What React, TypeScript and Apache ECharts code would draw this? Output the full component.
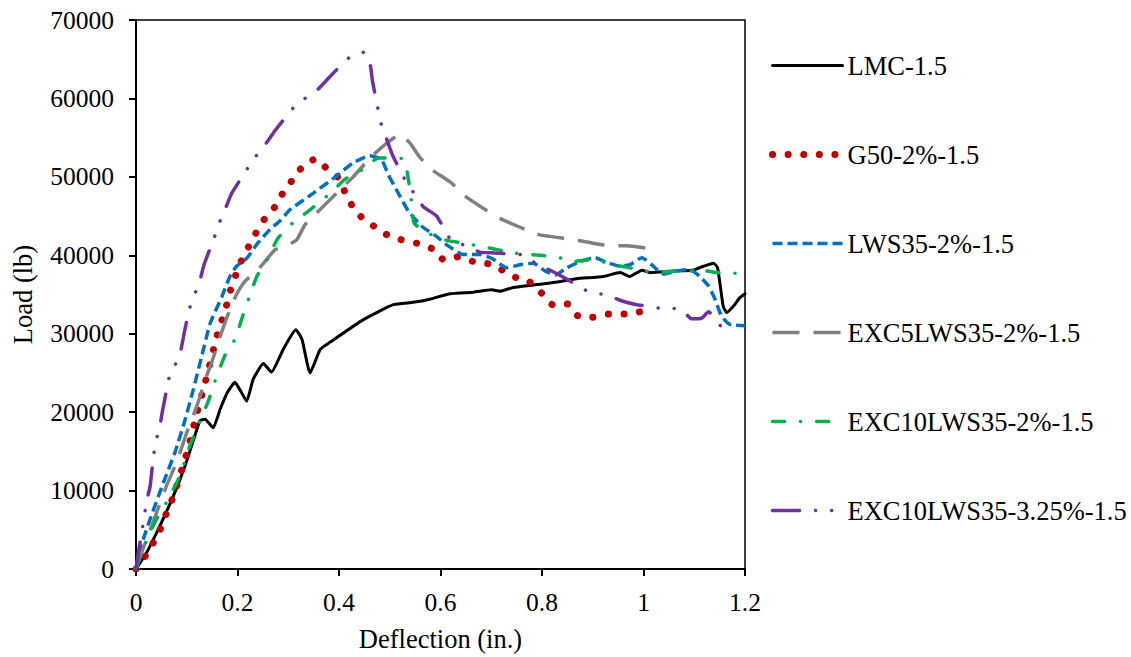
import React, { useEffect, useRef } from "react";
import * as echarts from "echarts";

const FONT = '"Liberation Serif", "Times New Roman", serif';

const seriesNames = [
  "LMC-1.5",
  "G50-2%-1.5",
  "LWS35-2%-1.5",
  "EXC5LWS35-2%-1.5",
  "EXC10LWS35-2%-1.5",
  "EXC10LWS35-3.25%-1.5",
];

const xTicks = { min: 0, max: 1.2, interval: 0.2 };
const yTicks = { min: 0, max: 70000, interval: 10000 };

const lmc = [
  [0, 0], [0.021, 2100], [0.045, 5200], [0.0735, 9300], [0.097, 13200], [0.115, 16800],
  [0.126, 18900], [0.136, 19100], [0.152, 18000], [0.166, 20400], [0.18, 22500], [0.195, 23800],
  [0.207, 22600], [0.218, 21400], [0.231, 24200], [0.251, 26200], [0.267, 25100], [0.29, 28000],
  [0.315, 30500], [0.327, 29300], [0.343, 25000], [0.363, 28000], [0.382, 28900], [0.448, 31800],
  [0.507, 33700], [0.546, 34000], [0.579, 34400], [0.619, 35100], [0.665, 35300], [0.701, 35600],
  [0.717, 35400], [0.743, 35900], [0.796, 36300], [0.829, 36600], [0.868, 37000], [0.921, 37300],
  [0.954, 37800], [0.973, 37300], [0.997, 38100], [1.013, 37800], [1.059, 38000], [1.098, 38100],
  [1.118, 38600], [1.138, 39000], [1.146, 38400], [1.157, 33500], [1.164, 32700], [1.177, 33500],
  [1.19, 34600], [1.2, 35100],
];

const g50 = [
  [0, 0], [0.021, 1900], [0.037, 3700], [0.051, 5500], [0.062, 7500], [0.074, 9300], [0.093, 13300],
  [0.103, 15400], [0.118, 19400], [0.126, 21300], [0.134, 23200], [0.1425, 25300], [0.158, 29400],
  [0.167, 31300], [0.177, 33300], [0.185, 35300], [0.195, 37200], [0.207, 39200], [0.221, 41000],
  [0.236, 42800], [0.253, 44600], [0.274, 46200], [0.29, 48000], [0.308, 49600], [0.328, 51300],
  [0.354, 52300], [0.377, 51000], [0.4, 49800], [0.412, 48000], [0.427, 46200], [0.448, 44600],
  [0.474, 43500], [0.5, 42400], [0.528, 41900], [0.555, 41500], [0.585, 40800], [0.607, 39400],
  [0.634, 39800], [0.665, 39200], [0.696, 38900], [0.725, 38000], [0.751, 37100], [0.776, 36600],
  [0.799, 35200], [0.821, 33700], [0.85, 33800], [0.87, 32300], [0.899, 32100], [0.931, 32500],
  [0.962, 32500], [0.993, 32800],
];

const lws35 = [
  [0, 0], [0.0145, 3800], [0.028, 6400], [0.054, 11000], [0.077, 14900], [0.097, 19100],
  [0.113, 22900], [0.129, 27000], [0.146, 31300], [0.169, 34700], [0.185, 37300], [0.198, 38600],
  [0.218, 39600], [0.238, 41400], [0.264, 43300], [0.284, 44400], [0.303, 45800], [0.349, 47900],
  [0.395, 50100], [0.428, 51800], [0.461, 52700], [0.484, 52200], [0.497, 50300], [0.517, 47900],
  [0.537, 45600], [0.563, 43700], [0.59, 42500], [0.615, 41200], [0.645, 40100], [0.678, 40100],
  [0.704, 39500], [0.73, 38400], [0.757, 38800], [0.783, 39000], [0.806, 38000], [0.826, 37500],
  [0.849, 38400], [0.875, 39200], [0.904, 39700], [0.927, 39100], [0.954, 38600], [0.973, 38800],
  [0.997, 39700], [1.016, 38800], [1.039, 37600], [1.065, 38000], [1.092, 38200], [1.111, 37300],
  [1.128, 36100], [1.141, 34400], [1.154, 32200], [1.17, 31200], [1.2, 31000],
];

const exc5 = [
  [0, 0], [0.011, 2100], [0.031, 5500], [0.06, 10600], [0.08, 13600], [0.1, 17400], [0.12, 20800],
  [0.139, 24600], [0.149, 26300], [0.166, 29700], [0.185, 33100], [0.198, 35000], [0.215, 36700],
  [0.238, 38000], [0.254, 39200], [0.274, 40700], [0.297, 41200], [0.317, 42000], [0.333, 43900],
  [0.356, 45400], [0.395, 47900], [0.428, 50000], [0.461, 52400], [0.494, 54300], [0.52, 55400],
  [0.54, 54300], [0.558, 52600], [0.579, 51100], [0.622, 49200], [0.645, 47700], [0.691, 45700],
  [0.717, 44700], [0.767, 43300], [0.796, 42600], [0.849, 42100], [0.881, 41800], [0.934, 41200],
  [0.967, 41200], [1.026, 40700],
];

const exc10 = [
  [0, 0], [0.008, 1500], [0.024, 4200], [0.044, 6800], [0.06, 8500], [0.087, 11900], [0.106, 15700],
  [0.126, 18900], [0.1425, 21400], [0.157, 24200], [0.175, 27200], [0.195, 29300], [0.211, 32400],
  [0.223, 34600], [0.238, 37300], [0.26, 39700], [0.28, 42200], [0.31, 44200], [0.343, 45800],
  [0.379, 47700], [0.412, 49700], [0.448, 51000], [0.477, 52400], [0.494, 52400], [0.527, 52300],
  [0.537, 49600], [0.543, 46800], [0.548, 44100], [0.573, 42900], [0.606, 42000], [0.658, 41400],
  [0.691, 41000], [0.743, 40300], [0.796, 40000], [0.829, 39800], [0.862, 39200], [0.888, 39400],
  [0.918, 39200], [0.947, 38700], [0.973, 38400], [1.0, 38000], [1.039, 37900], [1.085, 38000],
  [1.124, 38000], [1.144, 37800], [1.17, 37700], [1.2, 37700],
];

const exc10b = [
  [0, 0], [0.0046, 2100], [0.011, 4500], [0.016, 6600], [0.021, 8700], [0.028, 10600], [0.034, 14200],
  [0.039, 16200], [0.047, 18200], [0.052, 20100], [0.066, 24600], [0.0735, 25500], [0.087, 27500],
  [0.095, 30100], [0.105, 33100], [0.115, 34900], [0.126, 36800], [0.134, 38800], [0.154, 42200],
  [0.164, 44100], [0.177, 46100], [0.1885, 47900], [0.219, 51000], [0.236, 52600], [0.2555, 54200],
  [0.274, 55900], [0.31, 58800], [0.333, 60000], [0.359, 61200], [0.381, 62700], [0.42, 65200],
  [0.45, 65900], [0.462, 64100], [0.466, 62200], [0.477, 58600], [0.484, 56500], [0.495, 54600],
  [0.506, 52700], [0.532, 49400], [0.548, 47900], [0.566, 46200], [0.5925, 45000], [0.62, 42000],
  [0.65, 41200], [0.678, 40400], [0.707, 40300], [0.767, 40000], [0.79, 38800], [0.819, 38000],
  [0.845, 37100], [0.896, 35200], [0.926, 35000], [0.956, 34200], [0.987, 33700], [1.042, 33200],
  [1.072, 33200], [1.095, 31900], [1.115, 32000], [1.128, 32800], [1.154, 30800],
];

const seriesData = [lmc, g50, lws35, exc5, exc10, exc10b];

const seriesStyles: any[] = [
  { color: "#000000", width: 3, type: "solid", cap: "round" },
  { color: "#C00000", width: 7, type: [0.1, 15.5], cap: "round" },
  { color: "#0070C0", width: 3.5, type: [10, 5], cap: "butt" },
  { color: "#808080", width: 3.5, type: [27, 14], cap: "butt" },
  { color: "#00B050", width: 3.5, type: [12, 16, 0.1, 16], cap: "round" },
  { color: "#7030A0", width: 3.5, type: [27, 16, 0.1, 16, 0.1, 16], cap: "round" },
];

export default function App() {
  const ref = useRef<HTMLDivElement>(null);
  useEffect(() => {
    const chart = echarts.init(ref.current!, null, { renderer: "svg" });
    const axisCommon = {
      axisLine: { show: true, lineStyle: { color: "#000", width: 2 } },
      axisTick: { show: true, inside: false, length: 7, lineStyle: { color: "#000", width: 2 } },
      splitLine: { show: false },
      axisLabel: { color: "#000", fontSize: 25.5, fontFamily: FONT },
      nameTextStyle: { color: "#000", fontSize: 26.5, fontFamily: FONT },
    };
    chart.setOption({
      animation: false,
      backgroundColor: "#ffffff",
      textStyle: { fontFamily: FONT },
      grid: {
        left: 136,
        right: 386,
        top: 20,
        bottom: 87,
        show: true,
        borderColor: "#000",
        borderWidth: 1.5,
        containLabel: false,
      },
      xAxis: {
        type: "value",
        min: xTicks.min,
        max: xTicks.max,
        interval: xTicks.interval,
        name: "Deflection (in.)",
        nameLocation: "middle",
        nameGap: 56,
        ...axisCommon,
        axisLabel: { ...axisCommon.axisLabel, margin: 20, formatter: (v: number) => String(+v.toFixed(1)) },
      },
      yAxis: {
        type: "value",
        min: yTicks.min,
        max: yTicks.max,
        interval: yTicks.interval,
        name: "Load (lb)",
        nameLocation: "middle",
        nameGap: 100,
        ...axisCommon,
        axisLabel: { ...axisCommon.axisLabel, margin: 22, formatter: (v: number) => String(Math.round(v)) },
      },
      legend: {
        show: true,
        orient: "vertical",
        left: 769,
        top: 52,
        padding: 0,
        itemWidth: 70,
        itemHeight: 14,
        itemGap: 62,
        itemStyle: { opacity: 0 },
        lineStyle: { width: "inherit", type: "inherit", cap: "inherit" },
        textStyle: { color: "#000", fontSize: 26.5, fontFamily: FONT },
        data: seriesNames,
      },
      series: seriesNames.map((name, i) => ({
        name,
        type: "line",
        data: seriesData[i],
        symbol: "none",
        showSymbol: false,
        smooth: 0.15,
        clip: true,
        lineStyle: seriesStyles[i],
        itemStyle: { color: seriesStyles[i].color },
        z: 2 + i,
      })),
    });
    return () => chart.dispose();
  }, []);
  return (
    <div
      ref={ref}
      style={{ position: "fixed", left: 0, top: 0, width: 1131, height: 657, background: "#fff" }}
    />
  );
}
